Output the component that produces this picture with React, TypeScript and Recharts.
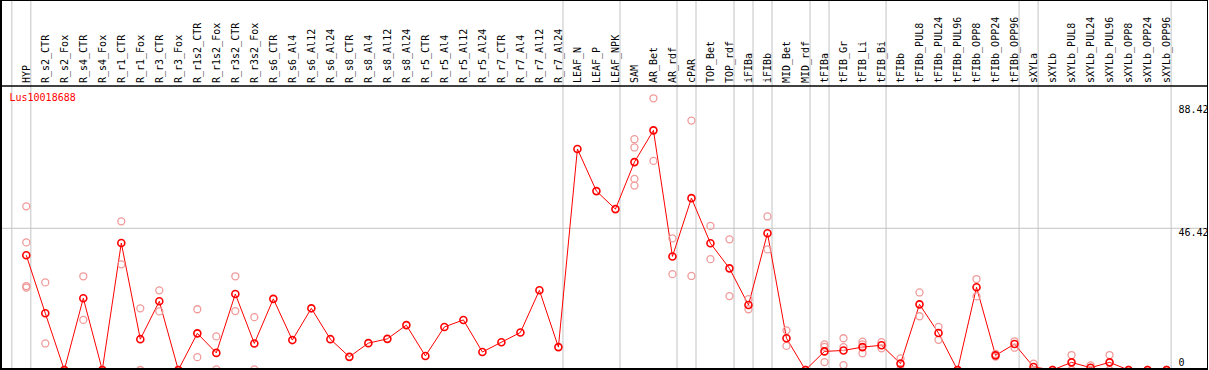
import React from "react";
import {
  ComposedChart,
  Line,
  Scatter,
  XAxis,
  YAxis,
  ReferenceLine,
} from "recharts";

const seriesName = "Lus10018688";

const categories = [
  "HYP",
  "R_s2_CTR", "R_s2_Fox", "R_s4_CTR", "R_s4_Fox", "R_r1_CTR", "R_r1_Fox",
  "R_r3_CTR", "R_r3_Fox", "R_r1s2_CTR", "R_r1s2_Fox", "R_r3s2_CTR", "R_r3s2_Fox",
  "R_s6_CTR", "R_s6_Al4", "R_s6_Al12", "R_s6_Al24", "R_s8_CTR", "R_s8_Al4",
  "R_s8_Al12", "R_s8_Al24", "R_r5_CTR", "R_r5_Al4", "R_r5_Al12", "R_r5_Al24",
  "R_r7_CTR", "R_r7_Al4", "R_r7_Al12", "R_r7_Al24",
  "LEAF_N", "LEAF_P", "LEAF_NPK",
  "SAM", "AR_Bet", "AR_rdf",
  "cPAR",
  "TOP_Bet", "TOP_rdf",
  "iFIBa",
  "iFIBb",
  "MID_Bet", "MID_rdf",
  "tFIBa",
  "tFIB_Gr", "tFIB_Li", "tFIB_Bi",
  "tFIBb", "tFIBb_PUL8", "tFIBb_PUL24", "tFIBb_PUL96", "tFIBb_OPP8", "tFIBb_OPP24", "tFIBb_OPP96",
  "sXYLa",
  "sXYLb", "sXYLb_PUL8", "sXYLb_PUL24", "sXYLb_PUL96", "sXYLb_OPP8", "sXYLb_OPP24", "sXYLb_OPP96",
];

const meanValues = [
  37.6,
  18.6, 0, 23.5, 0, 41.6, 10.1,
  22.5, 0, 12.0, 5.6, 24.9, 8.7,
  23.3, 9.8, 20.2, 10.1, 4.3, 8.8,
  10.2, 14.7, 4.6, 14.1, 16.4, 5.9,
  9.1, 12.3, 26.1, 7.5,
  72.4, 58.6, 52.7,
  68.1, 78.5, 37.2,
  56.3,
  41.5, 33.3,
  21.3,
  44.8,
  10.4, 0,
  6.1,
  6.4, 7.5, 8.1,
  2.1, 21.5, 12.1, 0, 27.1, 4.8, 8.5,
  1.0,
  0, 2.5, 0.75, 2.5, 0, 0, 0,
];

const replicateValues: number[][] = [
  [53.6, 41.8, 27.5, 27.0],
  [28.7, 8.7], [0, 0], [30.7, 16.4], [0, 0], [48.7, 34.6], [20.2, 0],
  [26.1, 19.2], [0, 0], [19.9, 4.2], [11.0, 0.2], [30.7, 19.3], [17.3, 0.2],
  [], [], [], [], [], [],
  [], [], [], [], [], [],
  [], [], [], [],
  [], [], [],
  [75.6, 72.9, 62.6, 60.4], [89.0, 68.5], [43.1, 31.4],
  [81.7, 30.8],
  [47.2, 36.3], [42.8, 24.2],
  [23.2, 19.9],
  [50.3, 39.5],
  [13.0, 7.9], [0, 0],
  [8.4, 7.6, 2.6],
  [10.4, 7.5, 1.6], [9.3, 8.4, 5.5], [9.1, 7.1],
  [3.8, 0.3], [25.4, 17.6], [14.1, 9.9], [0, 0], [29.8, 24.1], [5.3, 4.4], [9.4, 7.3],
  [2.1, 0],
  [0, 0], [4.9, 0], [1.5, 0], [4.9, 0], [0, 0], [0, 0], [0, 0],
];

// index of the last category of each group (-1 = leading separator)
const groupEnds = [-1, 0, 28, 31, 34, 35, 37, 38, 39, 41, 42, 45, 52, 53, 60];
const yTicks = [0, 46.42, 88.42];
const yTickDy = [-4, 8, 13];

const lineData = categories.map((name, i) => ({ i, name, v: meanValues[i] }));
const repData = replicateValues.flatMap((vals, i) => vals.map((v) => ({ i, v })));

const FONT = "'DejaVu Sans Mono', monospace";
const SEP_OFFSET = 0.24;

const HeaderTick = (props: any) => {
  const { x, y, payload } = props;
  const label = categories[payload.value] ?? "";
  const ax = x + 3.6;
  return (
    <text
      x={ax}
      y={y}
      transform={`rotate(-90, ${ax}, ${y})`}
      textAnchor="start"
      fontFamily={FONT}
      fontSize={10}
      fill="#000"
    >
      {label}
    </text>
  );
};

const makeValueLabel = (idx: number) => (props: any) => {
  const vb = props.viewBox || {};
  const right = (vb.x ?? 0) + (vb.width ?? 0);
  return (
    <text
      x={right - 29.5}
      y={(vb.y ?? 0) + yTickDy[idx]}
      textAnchor="start"
      fontFamily={FONT}
      fontSize={10}
      fill="#000"
    >
      {yTicks[idx]}
    </text>
  );
};

const SepLine = (p: any) => (
  <line
    x1={p.x1}
    x2={p.x2}
    y1={0}
    y2={Math.max(p.y1, p.y2)}
    stroke="#c4c4c4"
    strokeWidth={1}
  />
);

const RepDot = (p: any) => (
  <circle cx={p.cx} cy={p.cy} r={3.5} fill="none" stroke="#f09a9a" strokeWidth={1.3} />
);

export default function App() {
  return (
    <div style={{ position: "absolute", left: 0, top: 0, width: 1209, height: 370, background: "#fff" }}>
      <ComposedChart
        width={1209}
        height={370}
        data={lineData}
        margin={{ top: 0, right: 1, bottom: 0, left: 1 }}
      >
        <XAxis
          xAxisId={0}
          dataKey="i"
          type="number"
          orientation="top"
          height={86}
          domain={[-1.33, 62.18]}
          allowDataOverflow
          ticks={categories.map((_, i) => i)}
          interval={0}
          tickLine={false}
          tickSize={0}
          tickMargin={3}
          axisLine={{ stroke: "#000", strokeWidth: 1.5 }}
          tick={<HeaderTick />}
        />
        <YAxis
          yAxisId={0}
          orientation="right"
          hide
          width={0}
          domain={[0, 93.03]}
          allowDataOverflow
        />
        {groupEnds.map((g) => (
          <ReferenceLine
            key={`sep-${g}`}
            x={g + SEP_OFFSET}
            ifOverflow="visible"
            shape={SepLine}
          />
        ))}
        {yTicks.map((t, idx) => (
          <ReferenceLine
            key={`h-${t}`}
            y={t}
            ifOverflow="visible"
            stroke={idx === 1 ? "#c4c4c4" : "none"}
            strokeWidth={1}
            label={makeValueLabel(idx)}
          />
        ))}
        <Scatter
          data={repData}
          dataKey="v"
          isAnimationActive={false}
          shape={RepDot}
        />
        <Line
          dataKey="v"
          stroke="#ff0000"
          strokeWidth={1}
          isAnimationActive={false}
          dot={{ r: 3.5, stroke: "#ff0000", strokeWidth: 1.6, fill: "none" }}
          activeDot={false}
        />
      </ComposedChart>
      <svg
        width={1209}
        height={370}
        style={{ position: "absolute", left: 0, top: 0, pointerEvents: "none" }}
      >
        <text x={9.5} y={101} fontFamily={FONT} fontSize={10} fill="#ff0000">
          {seriesName}
        </text>
      </svg>
      <div
        style={{
          position: "absolute",
          left: 0,
          top: 0,
          width: 1208,
          height: 370,
          boxSizing: "border-box",
          borderTop: "1px solid #000",
          borderLeft: "2px solid #000",
          borderRight: "1px solid #000",
          borderBottom: "2px solid #000",
          pointerEvents: "none",
        }}
      />
    </div>
  );
}
